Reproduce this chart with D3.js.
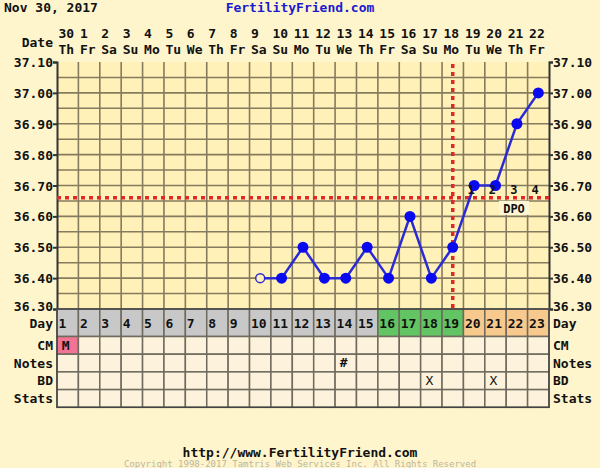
<!DOCTYPE html>
<html>
<head>
<meta charset="utf-8">
<script src="https://cdnjs.cloudflare.com/ajax/libs/d3/7.8.5/d3.min.js"></script>
<style>
  html, body { margin: 0; padding: 0; background: #fff5cc; }
  svg text { font-family: "DejaVu Sans Mono", monospace; font-weight: bold; font-size: 13px; fill: #111; }
</style>
</head>
<body>
<svg></svg>
<script>
'use strict';

// chart data
var chartDate = 'Nov 30, 2017';
var siteName = 'FertilityFriend.com';
var siteUrl = 'http://www.FertilityFriend.com';
var copyright = 'Copyright 1998-2017 Tamtris Web Services Inc. All Rights Reserved';
var cycleDays = [1, 2, 3, 4, 5, 6, 7, 8, 9, 10, 11, 12, 13, 14, 15, 16, 17, 18, 19, 20, 21, 22, 23];
var dates = ['30', '1', '2', '3', '4', '5', '6', '7', '8', '9', '10', '11', '12', '13', '14', '15', '16', '17', '18', '19', '20', '21', '22'];
var weekdays = ['Th', 'Fr', 'Sa', 'Su', 'Mo', 'Tu', 'We', 'Th', 'Fr', 'Sa', 'Su', 'Mo', 'Tu', 'We', 'Th', 'Fr', 'Sa', 'Su', 'Mo', 'Tu', 'We', 'Th', 'Fr'];
var temps = [null, null, null, null, null, null, null, null, null, 36.40, 36.40, 36.50, 36.40, 36.40, 36.50, 36.40, 36.60, 36.40, 36.50, 36.70, 36.70, 36.90, 37.00];
var openPointDays = [10];
var tempTicks = [37.10, 37.00, 36.90, 36.80, 36.70, 36.60, 36.50, 36.40, 36.30];
var coverline = 36.66;
var ovulationDay = 19;
var dpoDays = [20, 21, 22, 23];
var dpoLabels = ['1', '2', '3', '4'];
var phases = ['gray', 'gray', 'gray', 'gray', 'gray', 'gray', 'gray', 'gray', 'gray', 'gray', 'gray', 'gray', 'gray', 'gray', 'gray',
              'green', 'green', 'green', 'green', 'orange', 'orange', 'orange', 'orange'];
var rowNames = ['CM', 'Notes', 'BD', 'Stats'];
var cmDays = [1];
var cmValues = ['M'];
var noteDays = [14];
var noteValues = ['#'];
var bdDays = [18, 21];

var phaseColor = { gray: '#c8c8c8', green: '#62c462', orange: '#f8c98c' };

var W = 600, H = 468;
var plotLeft = 57, plotRight = 549, plotTop = 62, plotBottom = 309;
var dayRowH = 27.5, rowH = 17.7;

var svg = d3.select('svg').attr('width', W).attr('height', H);

svg.append('rect').attr('width', W).attr('height', H).attr('fill', '#fff5cc');

var x = d3.scaleBand().domain(cycleDays).range([plotLeft, plotRight]);
var y = d3.scaleLinear().domain([36.30, 37.10]).range([plotBottom, plotTop]);
var cx = function(d) { return x(d) + x.bandwidth() / 2; };

// titles
svg.append('text').attr('x', 4).attr('y', 12).text(chartDate);
svg.append('text').attr('x', 300).attr('y', 12).attr('text-anchor', 'middle')
  .style('fill', '#1a1ad0').text(siteName);

// date header
svg.append('text').attr('x', 53).attr('y', 47).attr('text-anchor', 'end').text('Date');
svg.selectAll('.dnum').data(cycleDays).enter().append('text')
  .attr('x', function(d) { return x(d) + 1.5; }).attr('y', 38)
  .text(function(d, i) { return dates[i]; });
svg.selectAll('.wday').data(cycleDays).enter().append('text')
  .attr('x', function(d) { return x(d) + 1.5; }).attr('y', 54)
  .text(function(d, i) { return weekdays[i]; });

// plot area
svg.append('rect').attr('x', plotLeft).attr('y', plotTop)
  .attr('width', plotRight - plotLeft).attr('height', plotBottom - plotTop)
  .attr('fill', '#fff1b8');

var grid = svg.append('g').attr('stroke', '#857b5e').attr('stroke-width', 1.6);
grid.selectAll('.vl').data(cycleDays.slice(1)).enter().append('line')
  .attr('x1', function(d) { return x(d); }).attr('x2', function(d) { return x(d); })
  .attr('y1', plotTop).attr('y2', plotBottom);
grid.selectAll('.hl').data(d3.range(36.35, 37.1, 0.05)).enter().append('line')
  .attr('x1', plotLeft).attr('x2', plotRight)
  .attr('y1', function(d) { return y(d); }).attr('y2', function(d) { return y(d); });

// temperature axes
function styleAxis(g, dx) {
  g.select('.domain').attr('stroke', '#333').attr('stroke-width', 2);
  g.selectAll('.tick line').attr('stroke', '#333').attr('stroke-width', 2);
  g.selectAll('.tick text').attr('x', dx).attr('dy', '0.35em').attr('fill', '#111')
    .style('font-size', '13px').style('font-family', 'DejaVu Sans Mono');
}
svg.append('g').attr('transform', 'translate(' + plotLeft + ',0)')
  .call(d3.axisLeft(y).tickValues(tempTicks).tickSize(4).tickFormat(d3.format('.2f')))
  .call(styleAxis, -4);
svg.append('g').attr('transform', 'translate(' + plotRight + ',0)')
  .call(d3.axisRight(y).tickValues(tempTicks).tickSize(4).tickFormat(d3.format('.2f')))
  .call(styleAxis, 4);
svg.selectAll('.tick').filter(function(d) { return d === 36.30; }).select('text').attr('dy', '0.1em');

// ovulation and coverline
svg.append('line').attr('x1', cx(ovulationDay)).attr('x2', cx(ovulationDay))
  .attr('y1', plotTop + 2).attr('y2', plotBottom)
  .attr('stroke', '#e02828').attr('stroke-width', 3.5).attr('stroke-dasharray', '4,4');
svg.append('line').attr('x1', plotLeft).attr('x2', plotRight)
  .attr('y1', y(coverline)).attr('y2', y(coverline))
  .attr('stroke', '#e02828').attr('stroke-width', 3.5).attr('stroke-dasharray', '4,4');

// DPO label
svg.append('rect').attr('x', 499).attr('y', y(coverline) + 3).attr('width', 30).attr('height', 14)
  .attr('fill', '#fff6d6');
svg.append('text').attr('x', 514).attr('y', y(coverline) + 15).attr('text-anchor', 'middle')
  .style('font-size', '12px').text('DPO');

// temperature line
var pts = cycleDays.map(function(d, i) { return { day: d, t: temps[i] }; })
  .filter(function(d) { return d.t !== null; });
var line = d3.line().x(function(d) { return cx(d.day); }).y(function(d) { return y(d.t); });
svg.append('path').datum(pts).attr('d', line)
  .attr('fill', 'none').attr('stroke', '#2b2bd6').attr('stroke-width', 2.5);
svg.selectAll('.pt').data(pts).enter().append('circle')
  .attr('cx', function(d) { return cx(d.day); }).attr('cy', function(d) { return y(d.t); })
  .attr('r', function(d) { return openPointDays.indexOf(d.day) >= 0 ? 4.5 : 5.5; })
  .attr('fill', function(d) { return openPointDays.indexOf(d.day) >= 0 ? '#fff1b8' : '#0a0aee'; })
  .attr('stroke', function(d) { return openPointDays.indexOf(d.day) >= 0 ? '#2b2bd6' : 'none'; })
  .attr('stroke-width', 1.5);

svg.selectAll('.dpo').data(dpoDays).enter().append('text')
  .attr('x', function(d) { return x(d) + 4; }).attr('y', y(coverline) - 4)
  .style('font-size', '12px')
  .text(function(d, i) { return dpoLabels[i]; });

// day row
var dayY = plotBottom;
svg.selectAll('.dcell').data(cycleDays).enter().append('rect')
  .attr('x', function(d) { return x(d); }).attr('y', dayY)
  .attr('width', x.bandwidth()).attr('height', dayRowH)
  .attr('fill', function(d, i) { return phaseColor[phases[i]]; })
  .attr('stroke', '#6f6a5e').attr('stroke-width', 1.5);
svg.selectAll('.dtxt').data(cycleDays).enter().append('text')
  .attr('x', function(d) { return x(d) + 1.5; }).attr('y', dayY + 19)
  .text(function(d) { return d; });
svg.append('text').attr('x', 53).attr('y', dayY + 19).attr('text-anchor', 'end').text('Day');
svg.append('text').attr('x', 553).attr('y', dayY + 19).text('Day');

// lower rows
rowNames.forEach(function(name, r) {
  var ry = dayY + dayRowH + r * rowH;
  svg.selectAll('.c' + r).data(cycleDays).enter().append('rect')
    .attr('x', function(d) { return x(d); }).attr('y', ry)
    .attr('width', x.bandwidth()).attr('height', rowH)
    .attr('fill', function(d) { return (r === 0 && cmDays.indexOf(d) >= 0) ? '#f27494' : '#fdf2dc'; })
    .attr('stroke', '#6f6a5e').attr('stroke-width', 1.5);
  svg.append('text').attr('x', 53).attr('y', ry + 13.5).attr('text-anchor', 'end').text(name);
  svg.append('text').attr('x', 553).attr('y', ry + 13.5).text(name);
});

function rowMarks(days, labels, r, bold) {
  var ry = dayY + dayRowH + r * rowH;
  svg.selectAll('.m' + r).data(days).enter().append('text')
    .attr('x', function(d) { return cx(d) - 2; }).attr('y', ry + 13)
    .attr('text-anchor', 'middle')
    .style('font-weight', bold ? 'bold' : 'normal')
    .text(function(d, i) { return labels[i]; });
}
rowMarks(cmDays, cmValues, 0, true);
rowMarks(noteDays, noteValues, 1, true);
rowMarks(bdDays, bdDays.map(function() { return 'X'; }), 2, false);

// outer border of table
svg.append('rect').attr('x', plotLeft).attr('y', dayY)
  .attr('width', plotRight - plotLeft).attr('height', dayRowH + rowNames.length * rowH)
  .attr('fill', 'none').attr('stroke', '#444').attr('stroke-width', 1.5);

// footer
svg.append('text').attr('x', 300).attr('y', 457).attr('text-anchor', 'middle').text(siteUrl);
svg.append('text').attr('x', 300).attr('y', 466.5).attr('text-anchor', 'middle')
  .style('font-size', '9px').style('font-weight', 'normal').style('fill', '#bdb59e').text(copyright);
</script>
</body>
</html>
